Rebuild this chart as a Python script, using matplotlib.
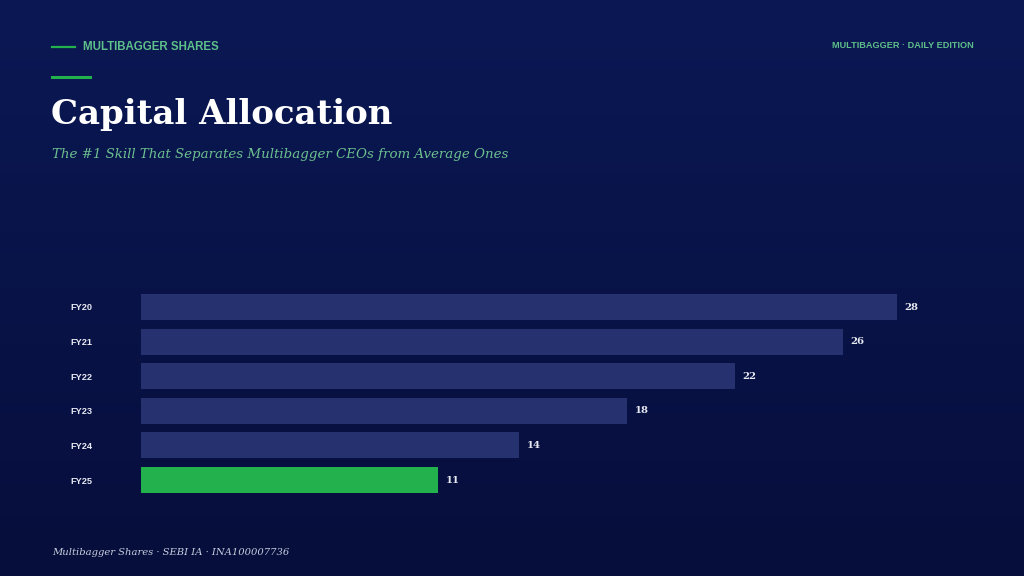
import numpy as np
import matplotlib
matplotlib.use("Agg")
import matplotlib.pyplot as plt
from matplotlib.lines import Line2D
from matplotlib.colors import LinearSegmentedColormap

categories = ["FY20", "FY21", "FY22", "FY23", "FY24", "FY25"]
values = [28, 26, 22, 18, 14, 11]
highlight = "FY25"

title = "Capital Allocation"
subtitle = "The #1 Skill That Separates Multibagger CEOs from Average Ones"
kicker = "MULTIBAGGER SHARES"
edition = "MULTIBAGGER · DAILY EDITION"
footer = "Multibagger Shares · SEBI IA · INA100007736"

W, H = 1024, 576
fig = plt.figure(figsize=(W / 100, H / 100), dpi=100)

# background gradient
bg = fig.add_axes([0, 0, 1, 1])
grad = np.linspace(0, 1, 256).reshape(-1, 1)
cmap = LinearSegmentedColormap.from_list("bg", ["#0b1854", "#060e3b"])
bg.imshow(grad, aspect="auto", cmap=cmap, extent=[0, 1, 0, 1], origin="upper")
bg.set_xlim(0, 1); bg.set_ylim(0, 1)
bg.axis("off")

def fx(px):
    return px / W

def fy(py):
    return 1 - py / H

# header
fig.add_artist(Line2D([fx(52), fx(75)], [fy(47), fy(47)], color="#22b14c", lw=1.6))
fig.text(fx(83), fy(47), kicker, color="#5fbf8a", fontsize=8.3, fontweight="bold",
         family="Liberation Sans", va="center", ha="left")
fig.text(fx(974), fy(46), edition, color="#5fbf8a", fontsize=6.6, fontweight="bold",
         family="Liberation Sans", va="center", ha="right")
fig.add_artist(Line2D([fx(52), fx(90)], [fy(76.5), fy(76.5)], color="#22b14c", lw=2.2))

fig.text(fx(51), fy(124), title, color="white", fontsize=24.5, fontweight="bold",
         family="DejaVu Serif", va="baseline", ha="left")
fig.text(fx(52), fy(158), subtitle, color="#6cc08f", fontsize=9.6, style="italic",
         family="DejaVu Serif", va="baseline", ha="left")
fig.text(fx(52), fy(555), footer, color="#c9cee0", fontsize=7.2, style="italic",
         family="DejaVu Serif", va="baseline", ha="left")

# bar chart
left_px, right_px = 141, 141 + 27 * 30
top_px, bot_px = 289.7, 497.3
ax = fig.add_axes([fx(left_px), fy(bot_px), (right_px - left_px) / W, (bot_px - top_px) / H])
ax.set_facecolor("none")
y = np.arange(len(categories))
colors = ["#22b14c" if c == highlight else "#263270" for c in categories]
ax.barh(y, values, height=0.75, color=colors)
ax.set_xlim(0, 30)
ax.set_ylim(len(categories) - 0.5, -0.5)
for yi, v in zip(y, values):
    ax.annotate(f"{v}", (v, yi), xytext=(5.5, 0), textcoords="offset points",
                va="center", ha="left", color="#e8eaf2", fontsize=7.3,
                fontweight="bold", family="DejaVu Serif")
ax.set_yticks(y, categories)
for lab in ax.get_yticklabels():
    lab.set_horizontalalignment("left")
    lab.set_color("#e8eaf2")
    lab.set_fontsize(6.6)
    lab.set_fontweight("bold")
    lab.set_family("Liberation Sans")
ax.tick_params(axis="y", length=0, pad=71 * 0.72)
ax.set_xticks([])
for s in ax.spines.values():
    s.set_visible(False)

fig.savefig("out.png", dpi=100)
